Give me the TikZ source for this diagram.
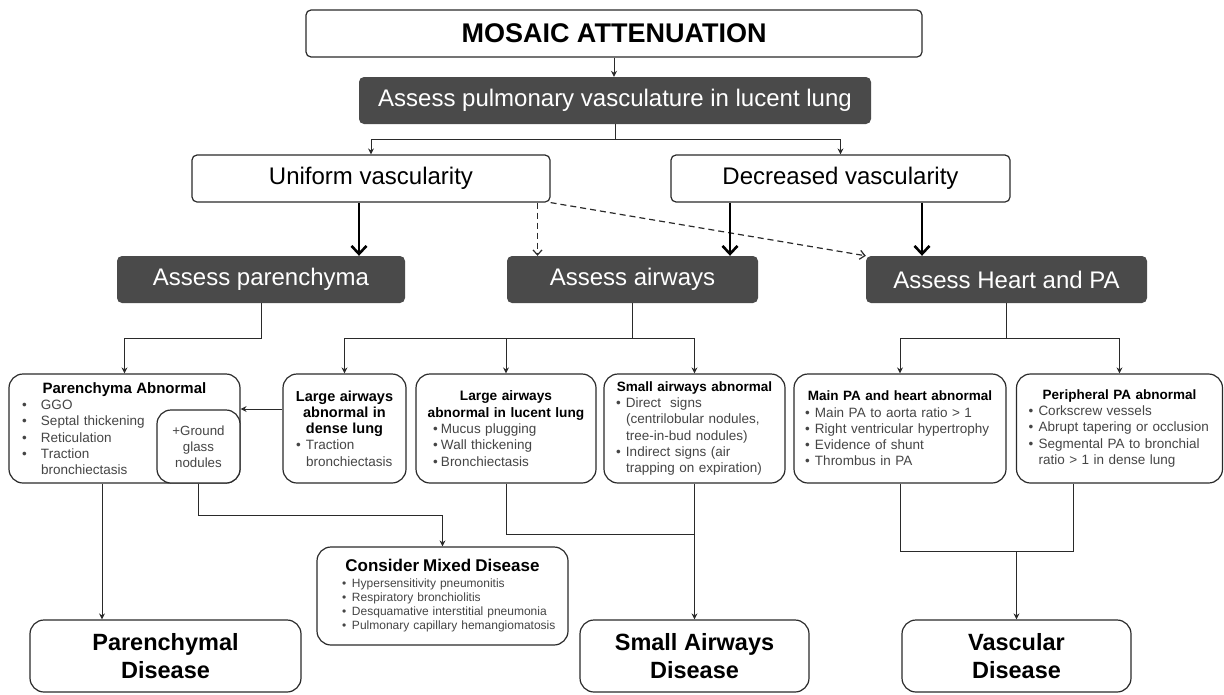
\documentclass[tikz,border=0pt]{standalone}
\usepackage{fontspec}
\setmainfont{Liberation Sans}
\usetikzlibrary{arrows.meta}

\definecolor{boxgray}{HTML}{4A4A4A}
\definecolor{linegray}{HTML}{2A2A2A}
\definecolor{bodygray}{HTML}{454545}

\newcommand{\sz}[2]{\fontsize{#1}{#2}\selectfont}
\newcommand{\bul}[1][10pt]{\makebox[#1][l]{\textbullet}}
\newcommand{\ind}[1][10pt]{\hspace*{#1}}
\newcommand{\hd}[2][13.5]{\hspace*{\fill}{\color{black}\bfseries\fontsize{#1}{16.3}\selectfont #2}\hspace*{\fill}\mbox{}}

\tikzset{
  whitebox/.style={draw=linegray, line width=1.2pt, rounded corners=5pt, fill=white, inner sep=0pt, minimum height=47pt, font=\sz{24}{28}},
  darkbox/.style={fill=boxgray, rounded corners=5pt, text=white, inner sep=0pt, minimum height=47pt, font=\sz{24}{28}},
  lowbox/.style={draw=linegray, line width=1.2pt, rounded corners=14pt, fill=white, align=left, inner xsep=4pt, minimum height=109pt, text=bodygray, font=\sz{13.5}{16.3}},
  disbox/.style={draw=linegray, line width=1.2pt, rounded corners=14pt, align=center, inner sep=0pt, minimum height=72pt, font=\bfseries\sz{23.5}{28}},
  conn/.style={draw=linegray, line width=1pt},
  arr/.style={conn, -{Stealth[length=6pt,width=6pt]}},
  thickarr/.style={draw=black, line width=2.6pt, -{Straight Barb[length=8pt,width=15pt]}},
  dasharr/.style={draw=linegray, line width=1.2pt, dash pattern=on 6pt off 4pt, -{Straight Barb[length=5pt,width=9pt]}}
}

\begin{document}
\begin{tikzpicture}[x=1pt, y=-1pt]
  \useasboundingbox (0,0) rectangle (1224,694);

  \node[whitebox, minimum width=616pt, font=\bfseries\sz{27}{30}] (title) at (614,33.5) {MOSAIC ATTENUATION};
  \node[darkbox, minimum width=512pt] (vasc) at (615,100.5) {Assess pulmonary vasculature in lucent lung};
  \node[whitebox, minimum width=358pt] (uniform) at (371,178.5) {Uniform vascularity};
  \node[whitebox, minimum width=339pt] (decreased) at (840.5,178.5) {Decreased vascularity};

  \node[darkbox, minimum width=288pt] (parench) at (261,279.5) {Assess parenchyma};
  \node[darkbox, minimum width=251pt] (airways) at (632.5,279.5) {Assess airways};
  \node[darkbox, minimum width=281pt] (heart) at (1006.5,279.5) {Assess Heart and PA};

  \node[lowbox, text width=223pt] (pabn) at (124.5,428.5)
    {\hd[15]{Parenchyma Abnormal}\\
     \ind[9pt]\bul[19pt]GGO\\
     \ind[9pt]\bul[19pt]Septal thickening\\
     \ind[9pt]\bul[19pt]Reticulation\\
     \ind[9pt]\bul[19pt]Traction\\
     \ind[28pt]bronchiectasis};
  \node[draw=linegray, line width=1.2pt, rounded corners=14pt, fill=white, align=center,
        inner sep=0pt, minimum width=83pt, minimum height=73pt, text=bodygray,
        font=\sz{13.3}{16}] (ggn) at (198.5,446.5) {+Ground\\glass\\nodules};
  \node[lowbox, text width=115pt] (ladense) at (344.5,428.5)
    {\hd[14.5]{Large airways}\\
     \hd[14.5]{abnormal in}\\
     \hd[14.5]{dense lung}\\
     \ind[9pt]\bul Traction\\
     \ind[19pt]bronchiectasis};
  \node[lowbox, text width=172pt] (lalucent) at (506,428.5)
    {\hd[13.7]{Large airways}\\
     \hd[13.7]{abnormal in lucent lung}\\
     \ind[13pt]\bul[8pt]Mucus plugging\\
     \ind[13pt]\bul[8pt]Wall thickening\\
     \ind[13pt]\bul[8pt]Bronchiectasis};
  \node[lowbox, text width=173pt] (smallab) at (694.5,428.5)
    {\hd{Small airways abnormal}\\
     \ind[8pt]\bul Direct\ \ signs\\
     \ind[18pt](centrilobular nodules,\\
     \ind[18pt]tree-in-bud nodules)\\
     \ind[8pt]\bul Indirect signs (air\\
     \ind[18pt]trapping on expiration)};
  \node[lowbox, text width=204pt] (mainpa) at (900,428.5)
    {\hd{Main PA and heart abnormal}\\
     \ind[7pt]\bul Main PA to aorta ratio > 1\\
     \ind[7pt]\bul Right ventricular hypertrophy\\
     \ind[7pt]\bul Evidence of shunt\\
     \ind[7pt]\bul Thrombus in PA};
  \node[lowbox, text width=198pt] (periph) at (1119.5,428.5)
    {\hd{Peripheral PA abnormal}\\
     \ind[8pt]\bul Corkscrew vessels\\
     \ind[8pt]\bul Abrupt tapering or occlusion\\
     \ind[8pt]\bul Segmental PA to bronchial\\
     \ind[18pt]ratio > 1 in dense lung};

  \node[lowbox, text width=243pt, minimum height=98pt, font=\sz{12}{14}] (mixed) at (442.5,596)
    {\hd[17]{Consider Mixed Disease}\\[2pt]
     \ind[21pt]\bul Hypersensitivity pneumonitis\\
     \ind[21pt]\bul Respiratory bronchiolitis\\
     \ind[21pt]\bul Desquamative interstitial pneumonia\\
     \ind[21pt]\bul Pulmonary capillary hemangiomatosis};

  \node[disbox, minimum width=271pt] (pdis) at (165.5,656) {Parenchymal\\Disease};
  \node[disbox, minimum width=229pt] (sadis) at (694.5,656) {Small Airways\\Disease};
  \node[disbox, minimum width=229pt] (vdis) at (1016.5,656) {Vascular\\Disease};

  \draw[arr] (title.south) -- (title.south |- vasc.north);
  \draw[conn] (vasc.south) -- ++(0,15) coordinate (vsplit);
  \draw[arr] (vsplit) -| (uniform.north);
  \draw[arr] (vsplit) -| (decreased.north);

  \coordinate (u1) at ([xshift=-12pt]uniform.south);
  \coordinate (u2) at ([xshift=166.5pt]uniform.south);
  \coordinate (d1) at ([xshift=-110.5pt]decreased.south);
  \coordinate (d2) at ([xshift=81.5pt]decreased.south);
  \draw[thickarr] (u1) -- (u1 |- parench.north);
  \draw[dasharr] (u2) -- (u2 |- airways.north);
  \draw[dasharr] (uniform.south east) -- (heart.north west);
  \draw[thickarr] (d1) -- (d1 |- airways.north);
  \draw[thickarr] (d2) -- (d2 |- heart.north);

  \draw[arr] (parench.south) -- ++(0,35) -| (pabn.north);
  \draw[conn] (airways.south) -- ++(0,35) coordinate (asplit);
  \draw[arr] (asplit) -| (ladense.north);
  \draw[arr] (asplit) -| (lalucent.north);
  \draw[arr] (asplit) -| (smallab.north);
  \draw[conn] (heart.south) -- ++(0,35) coordinate (hsplit);
  \draw[arr] (hsplit) -| (mainpa.north);
  \draw[arr] (hsplit) -| (periph.north);

  \coordinate (ld) at ([yshift=19.5pt]ladense.west);
  \draw[arr] (ld) -- (ld -| pabn.east);

  \coordinate (pb) at ([xshift=-22.5pt]pabn.south);
  \draw[arr] (pb) -- (pb |- pdis.north);
  \draw[arr] (ggn.south) -- ++(0,32) -| (mixed.north);

  \draw[conn] (lalucent.south) -- ++(0,51) -| (smallab.south);
  \draw[arr] (smallab.south) -- (sadis.north);

  \coordinate (pp) at ([xshift=-46.5pt]periph.south);
  \draw[conn] (mainpa.south) -- ++(0,68) coordinate (vjoin) -| (pp);
  \draw[arr] (vjoin -| vdis.north) -- (vdis.north);
\end{tikzpicture}
\end{document}
